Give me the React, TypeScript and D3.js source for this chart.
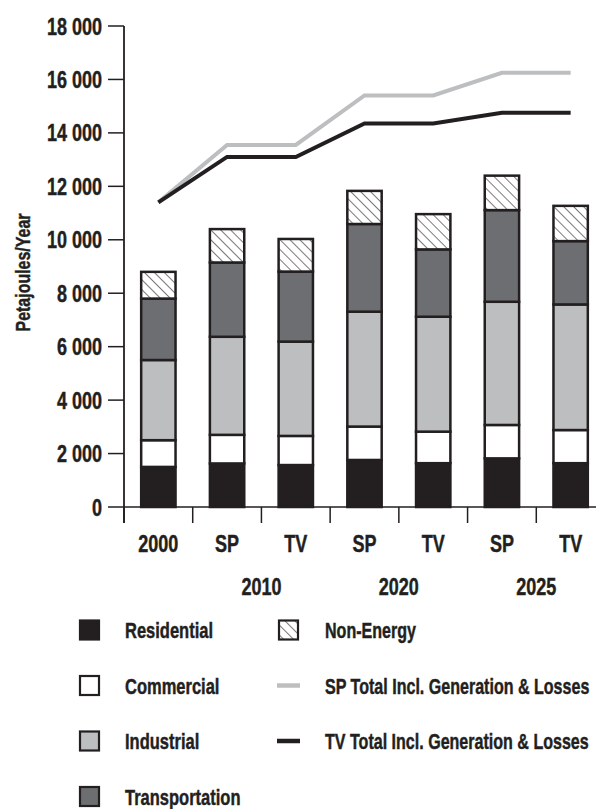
import React from "react";
import * as d3 from "d3";

const categories = ["2000", "2010 SP", "2010 TV", "2020 SP", "2020 TV", "2025 SP", "2025 TV"];
const scenarioLabels = ["2000", "SP", "TV", "SP", "TV", "SP", "TV"];
const yearLabels = ["2010", "2020", "2025"];
const yearAnchors = ["2010 TV", "2020 TV", "2025 TV"];

const residential = [1500, 1630, 1570, 1760, 1640, 1820, 1640];
const commercial = [1000, 1070, 1090, 1250, 1180, 1250, 1240];
const industrial = [3000, 3670, 3530, 4300, 4300, 4610, 4700];
const transportation = [2300, 2780, 2620, 3280, 2520, 3430, 2370];
const nonEnergy = [1000, 1250, 1220, 1240, 1320, 1290, 1320];

const spTotal = [11400, 13550, 13550, 15400, 15400, 16250, 16250];
const tvTotal = [11400, 13100, 13100, 14350, 14350, 14750, 14750];

const yTicks = [0, 2000, 4000, 6000, 8000, 10000, 12000, 14000, 16000, 18000];

const ink = "#231f20";
const font = "'Liberation Sans', Arial, sans-serif";

const seriesKeys = ["residential", "commercial", "industrial", "transportation", "nonEnergy"];
const fills: Record<string, string> = {
  residential: ink,
  commercial: "#ffffff",
  industrial: "#bcbec0",
  transportation: "#6d6e71",
  nonEnergy: "url(#hatch)",
};

const width = 596;
const height = 809;

// condensed bold text: the reference face is much narrower than anything installed
const CText = ({ x, y, size, anchor = "start", sx = 0.75, rotate = 0, children }: any) => (
  <text
    transform={`translate(${x},${y}) rotate(${rotate}) scale(${sx},1)`}
    textAnchor={anchor}
    fontSize={size}
    stroke={ink}
    strokeWidth={0.45}
  >
    {children}
  </text>
);

const App = () => {
  const rows = categories.map((c, i) => ({
    category: c,
    residential: residential[i],
    commercial: commercial[i],
    industrial: industrial[i],
    transportation: transportation[i],
    nonEnergy: nonEnergy[i],
  }));
  const stacked = d3.stack<any>().keys(seriesKeys)(rows);

  const x = d3.scaleBand().domain(categories).range([124, 605]).padding(0);
  const y = d3.scaleLinear().domain([0, 18000]).range([507, 26]);
  const barW = x.bandwidth() * 0.5;
  const cx = (c: string) => (x(c) as number) + x.bandwidth() / 2;

  const fmt = d3.formatLocale({ decimal: ".", thousands: " ", grouping: [3], currency: ["", ""] }).format(",");

  const line = d3
    .line<number>()
    .x((_, i) => cx(categories[i]))
    .y((d) => y(d));

  const legendLeft = [
    { label: "Residential", key: "residential" },
    { label: "Commercial", key: "commercial" },
    { label: "Industrial", key: "industrial" },
    { label: "Transportation", key: "transportation" },
  ];
  const legendRight = [
    { label: "Non-Energy", type: "box", key: "nonEnergy" },
    { label: "SP Total Incl. Generation & Losses", type: "line", color: "#bcbec0" },
    { label: "TV Total Incl. Generation & Losses", type: "line", color: ink },
  ];
  const legendY = (i: number) => 630 + i * 55.5;

  return (
    <svg
      width={width}
      height={height}
      style={{ position: "absolute", left: 0, top: 0, background: "#fff" }}
      fontFamily={font}
      fontWeight="bold"
      fill={ink}
    >
      <defs>
        <pattern id="hatch" width="7" height="7" patternUnits="userSpaceOnUse" patternTransform="rotate(-45)">
          <rect width="7" height="7" fill="#fff" />
          <line x1="0" y1="0" x2="0" y2="7" stroke={ink} strokeWidth="1.2" />
        </pattern>
      </defs>

      {/* bars */}
      {stacked.map((s) => (
        <g key={s.key}>
          {s.map((d, i) => (
            <rect
              key={i}
              x={(x(categories[i]) as number) + (x.bandwidth() - barW) / 2}
              y={y(d[1])}
              width={barW}
              height={y(d[0]) - y(d[1])}
              fill={fills[s.key]}
              stroke={ink}
              strokeWidth={2.5}
            />
          ))}
        </g>
      ))}

      {/* total lines */}
      <path d={line(spTotal) as string} fill="none" stroke="#bcbec0" strokeWidth={4} />
      <path d={line(tvTotal) as string} fill="none" stroke={ink} strokeWidth={4} />

      {/* y axis */}
      <line x1={124} x2={124} y1={y(18000)} y2={523} stroke={ink} strokeWidth={1.8} />
      {yTicks.map((t) => (
        <g key={t}>
          <line x1={108} x2={124} y1={y(t)} y2={y(t)} stroke={ink} strokeWidth={1.5} />
          <CText x={102} y={y(t) + 8.5} size={24} anchor="end">
            {fmt(t)}
          </CText>
        </g>
      ))}
      <CText x={30} y={y(9000) + 6} size={21} anchor="middle" rotate={-90} sx={0.76}>
        Petajoules/Year
      </CText>

      {/* x axis */}
      <line x1={124} x2={width} y1={y(0)} y2={y(0)} stroke={ink} strokeWidth={1.5} />
      {categories.map((c, i) => (
        <g key={c}>
          <line x1={x(c)} x2={x(c)} y1={y(0)} y2={523} stroke={ink} strokeWidth={1.5} />
          <CText x={cx(c)} y={552} size={24} anchor="middle">
            {scenarioLabels[i]}
          </CText>
        </g>
      ))}
      {yearLabels.map((l, i) => (
        <CText key={l} x={x(yearAnchors[i])} y={595} size={24} anchor="middle">
          {l}
        </CText>
      ))}

      {/* legend */}
      {legendLeft.map((l, i) => (
        <g key={l.key}>
          <rect x={80} y={legendY(i) - 9.5} width={19} height={19} fill={fills[l.key]} stroke={ink} strokeWidth={2.2} />
          <CText x={125} y={legendY(i) + 8} size={22}>
            {l.label}
          </CText>
        </g>
      ))}
      {legendRight.map((l, i) => (
        <g key={l.label}>
          {l.type === "box" ? (
            <rect x={279} y={legendY(i) - 9.5} width={19} height={19} fill={fills[l.key as string]} stroke={ink} strokeWidth={2.2} />
          ) : (
            <line x1={277} x2={300} y1={legendY(i)} y2={legendY(i)} stroke={l.color} strokeWidth={4.5} />
          )}
          <CText x={325} y={legendY(i) + 8} size={22} sx={0.73}>
            {l.label}
          </CText>
        </g>
      ))}
    </svg>
  );
};

export default App;
